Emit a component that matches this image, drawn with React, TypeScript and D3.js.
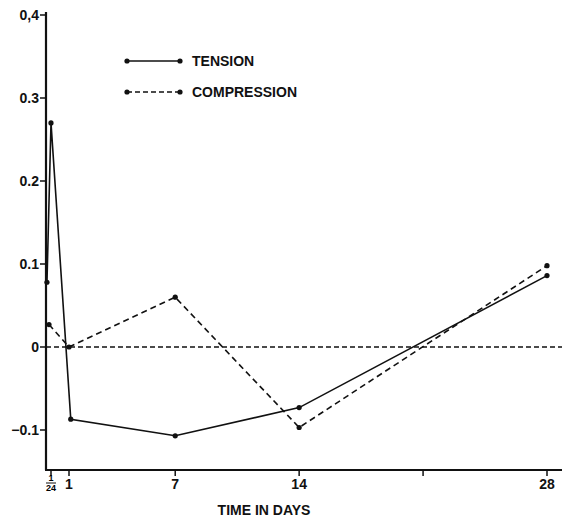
import React from "react";
import { useEffect, useRef } from "react";
import * as d3 from "d3";

// time in days
const tensionDays = [0.008, 1 / 24, 1.1, 7, 14, 28];
const tensionValues = [0.078, 0.27, -0.087, -0.107, -0.073, 0.086];
const compressionDays = [0.025, 1, 7, 14, 28];
const compressionValues = [0.027, 0, 0.06, -0.097, 0.098];

const yTicks = [0.4, 0.3, 0.2, 0.1, 0, -0.1];
const yTickLabels = ["0,4", "0.3", "0.2", "0.1", "0", "\u22120.1"];
const xTicks = [1 / 24, 1, 7, 14, 21, 28];
const xTickLabels = ["", "1", "7", "14", "", "28"];

const App: React.FC = () => {
  const svgRef = useRef<SVGSVGElement | null>(null);
  const width = 562;
  const height = 518;
  const font = "'Liberation Sans', Arial, sans-serif";

  useEffect(() => {
    if (!svgRef.current) return;
    const svg = d3.select(svgRef.current);
    svg.selectAll("*").remove();

    // the day axis is stretched near the origin, as in the original plot
    const xScale = d3
      .scaleLinear()
      .domain([0, 1 / 24, 1, 28, 28.85])
      .range([46, 51, 69, 547, 562]);
    const yScale = d3.scaleLinear().domain([-0.1, 0.4]).range([430, 15]);
    const axisY = 470;

    // zero line
    svg
      .append("line")
      .attr("x1", xScale(0))
      .attr("x2", width)
      .attr("y1", yScale(0))
      .attr("y2", yScale(0))
      .attr("stroke", "#111")
      .attr("stroke-width", 1.3)
      .attr("stroke-dasharray", "5 3");

    // axes
    svg
      .append("line")
      .attr("x1", xScale(0))
      .attr("x2", xScale(0))
      .attr("y1", 12)
      .attr("y2", axisY)
      .attr("stroke", "#111")
      .attr("stroke-width", 2.2);
    svg
      .append("line")
      .attr("x1", xScale(0) - 1)
      .attr("x2", width)
      .attr("y1", axisY)
      .attr("y2", axisY)
      .attr("stroke", "#111")
      .attr("stroke-width", 2.2);

    // y ticks
    yTicks.forEach((t, i) => {
      svg
        .append("line")
        .attr("x1", xScale(0) - 6)
        .attr("x2", xScale(0))
        .attr("y1", yScale(t))
        .attr("y2", yScale(t))
        .attr("stroke", "#111")
        .attr("stroke-width", 1.5);
      svg
        .append("text")
        .attr("x", xScale(0) - 7)
        .attr("y", yScale(t))
        .attr("dy", "0.36em")
        .attr("text-anchor", "end")
        .style("font-family", font)
        .style("font-size", "14px")
        .style("font-weight", "bold")
        .attr("fill", "#111")
        .text(yTickLabels[i]);
    });

    // x ticks
    xTicks.forEach((t, i) => {
      svg
        .append("line")
        .attr("x1", xScale(t))
        .attr("x2", xScale(t))
        .attr("y1", axisY)
        .attr("y2", axisY + 6)
        .attr("stroke", "#111")
        .attr("stroke-width", 1.5);
      if (xTickLabels[i]) {
        svg
          .append("text")
          .attr("x", xScale(t))
          .attr("y", 489)
          .attr("text-anchor", "middle")
          .style("font-family", font)
          .style("font-size", "14px")
          .style("font-weight", "bold")
          .attr("fill", "#111")
          .text(xTickLabels[i]);
      }
    });

    // stacked fraction 1/24
    const fx = xScale(1 / 24);
    svg
      .append("text")
      .attr("x", fx)
      .attr("y", 481)
      .attr("text-anchor", "middle")
      .style("font-family", font)
      .style("font-size", "9px")
      .style("font-weight", "bold")
      .text("1");
    svg
      .append("line")
      .attr("x1", fx - 5)
      .attr("x2", fx + 5)
      .attr("y1", 483)
      .attr("y2", 483)
      .attr("stroke", "#111")
      .attr("stroke-width", 1);
    svg
      .append("text")
      .attr("x", fx)
      .attr("y", 491)
      .attr("text-anchor", "middle")
      .style("font-family", font)
      .style("font-size", "9px")
      .style("font-weight", "bold")
      .text("24");

    svg
      .append("text")
      .attr("x", 264)
      .attr("y", 515)
      .attr("text-anchor", "middle")
      .style("font-family", font)
      .style("font-size", "14px")
      .style("font-weight", "bold")
      .attr("fill", "#111")
      .text("TIME IN DAYS");

    // series
    const line = d3
      .line<[number, number]>()
      .x((d) => xScale(d[0]))
      .y((d) => yScale(d[1]));

    const tension = tensionDays.map((d, i) => [d, tensionValues[i]] as [number, number]);
    const compression = compressionDays.map(
      (d, i) => [d, compressionValues[i]] as [number, number]
    );

    svg
      .append("path")
      .datum(tension)
      .attr("fill", "none")
      .attr("stroke", "#111")
      .attr("stroke-width", 1.6)
      .attr("d", line);
    svg
      .append("path")
      .datum(compression)
      .attr("fill", "none")
      .attr("stroke", "#111")
      .attr("stroke-width", 1.6)
      .attr("stroke-dasharray", "6 4")
      .attr("d", line);

    [tension, compression].forEach((s) => {
      svg
        .selectAll(null)
        .data(s)
        .enter()
        .append("circle")
        .attr("cx", (d) => xScale(d[0]))
        .attr("cy", (d) => yScale(d[1]))
        .attr("r", 2.6)
        .attr("fill", "#111");
    });

    // legend
    const legend = svg.append("g");
    [
      { label: "TENSION", y: 61, dash: null },
      { label: "COMPRESSION", y: 92, dash: "5 3" },
    ].forEach((item) => {
      legend
        .append("line")
        .attr("x1", 127)
        .attr("x2", 180)
        .attr("y1", item.y)
        .attr("y2", item.y)
        .attr("stroke", "#111")
        .attr("stroke-width", 1.5)
        .attr("stroke-dasharray", item.dash);
      [127, 180].forEach((cx) => {
        legend
          .append("circle")
          .attr("cx", cx)
          .attr("cy", item.y)
          .attr("r", 2.6)
          .attr("fill", "#111");
      });
      legend
        .append("text")
        .attr("x", 192)
        .attr("y", item.y)
        .attr("dy", "0.36em")
        .style("font-family", font)
        .style("font-size", "14px")
        .style("font-weight", "bold")
        .attr("fill", "#111")
        .text(item.label);
    });
  }, []);

  return (
    <svg
      ref={svgRef}
      width={width}
      height={height}
      style={{ position: "absolute", left: 0, top: 0, background: "#fff" }}
    ></svg>
  );
};

export default App;
